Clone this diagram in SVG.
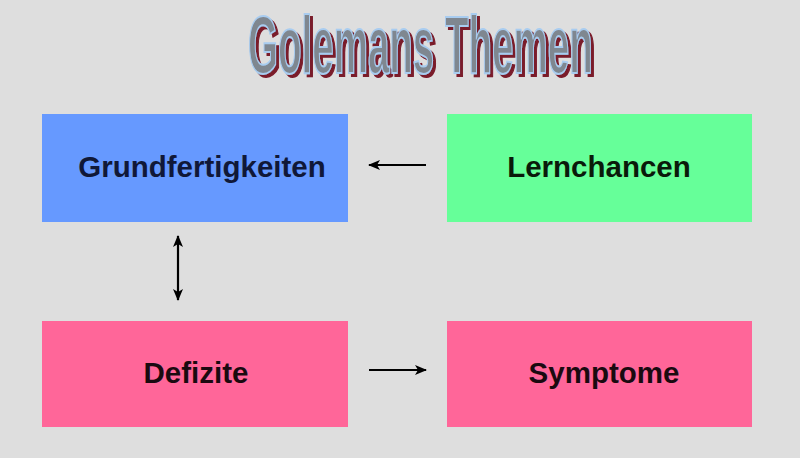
<svg xmlns="http://www.w3.org/2000/svg" width="800" height="458" viewBox="0 0 800 458">
<defs>
<style>
.box{stroke:none}
.lbl{font-family:"Liberation Sans",Arial,sans-serif;font-weight:bold;font-size:29.5px;text-anchor:middle}
.conn{stroke:#000;stroke-width:2.2;fill:none}
.title{font-family:"Liberation Sans",Arial,sans-serif;font-weight:bold;font-size:82px}
</style>
<filter id="shadow" x="-5%" y="-20%" width="115%" height="150%">
<feOffset in="SourceAlpha" dx="3" dy="3" result="off"/>
<feFlood flood-color="#7a1a2a"/>
<feComposite in2="off" operator="in" result="sh"/>
<feMerge><feMergeNode in="sh"/><feMergeNode in="SourceGraphic"/></feMerge>
</filter>
<marker id="ah" viewBox="0 0 12 10" refX="11" refY="5" markerWidth="12" markerHeight="10" markerUnits="userSpaceOnUse" orient="auto-start-reverse">
<path d="M0,0 L12,5 L0,10 L3,5 Z" fill="#000"/>
</marker>
</defs>
<rect width="800" height="458" fill="#dedede"/>
<g id="title" filter="url(#shadow)">
<text class="title" transform="translate(248,73) scale(0.47,1)" fill="#7f8790" stroke="#a8ccf0" stroke-width="2">Golemans Themen</text>
</g>
<g id="grundfertigkeiten">
<rect class="box" x="42" y="114" width="306" height="108" fill="#6699ff"/>
<text class="lbl" x="202" y="177" fill="#101838">Grundfertigkeiten</text>
</g>
<g id="lernchancen">
<rect class="box" x="447" y="114" width="305" height="108" fill="#66ff99"/>
<text class="lbl" x="599" y="177" fill="#0a1a0a">Lernchancen</text>
</g>
<g id="defizite">
<rect class="box" x="42" y="321" width="306" height="106" fill="#ff6699"/>
<text class="lbl" x="196" y="383" fill="#1a0a10">Defizite</text>
</g>
<g id="symptome">
<rect class="box" x="447" y="321" width="305" height="106" fill="#ff6699"/>
<text class="lbl" x="604" y="383" fill="#1a0a10">Symptome</text>
</g>
<g id="connectors">
<line class="conn" x1="426" y1="165" x2="369" y2="165" marker-end="url(#ah)"/>
<line class="conn" x1="178" y1="236" x2="178" y2="300" marker-start="url(#ah)" marker-end="url(#ah)"/>
<line class="conn" x1="369" y1="370" x2="426" y2="370" marker-end="url(#ah)"/>
</g>
</svg>
